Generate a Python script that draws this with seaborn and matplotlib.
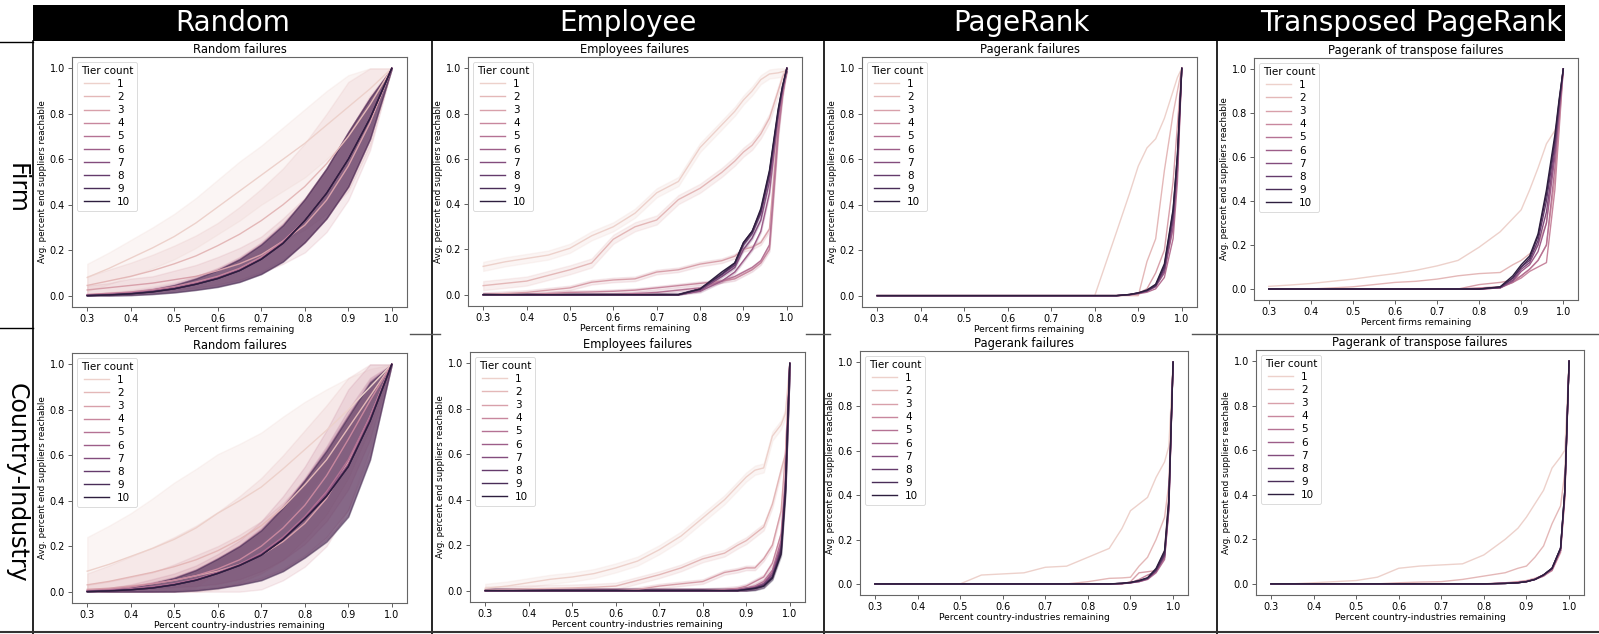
import numpy as np
import pandas as pd
import seaborn as sns
import matplotlib.pyplot as plt
from matplotlib.patches import Rectangle
from matplotlib.lines import Line2D

# x grids (fraction of nodes remaining)
X_SMOOTH = [0.30, 0.35, 0.40, 0.45, 0.50, 0.55, 0.60, 0.65, 0.70, 0.75, 0.80, 0.85, 0.90, 0.95, 1.00]
X_SHARP = [0.30, 0.35, 0.40, 0.45, 0.50, 0.55, 0.60, 0.65, 0.70, 0.75, 0.80, 0.85, 0.88, 0.90,
           0.92, 0.94, 0.96, 0.98, 0.99, 1.00]
TIERS = list(range(1, 11))

COLUMN_TITLES = ["Random", "Employee", "PageRank", "Transposed PageRank"]
ROW_TITLES = ["Firm", "Country-Industry"]
PANEL_TITLES = ["Random failures", "Employees failures", "Pagerank failures", "Pagerank of transpose failures"]
X_LABELS = ["Percent firms remaining", "Percent country-industries remaining"]
Y_LABEL = "Avg. percent end suppliers reachable"

# ---- Random failures, firm level (mean per tier, X_SMOOTH) ----
random_firm = [
    [0.080, 0.120, 0.165, 0.210, 0.260, 0.320, 0.390, 0.460, 0.530, 0.600, 0.670, 0.750, 0.830, 0.910, 1.00],
    [0.045, 0.065, 0.085, 0.110, 0.140, 0.175, 0.220, 0.270, 0.330, 0.400, 0.480, 0.580, 0.700, 0.840, 1.00],
    [0.025, 0.035, 0.045, 0.055, 0.070, 0.085, 0.110, 0.140, 0.180, 0.240, 0.310, 0.420, 0.570, 0.760, 1.00],
    [0.005, 0.010, 0.016, 0.026, 0.040, 0.060, 0.085, 0.120, 0.170, 0.240, 0.330, 0.450, 0.600, 0.780, 1.00],
    [0.003, 0.007, 0.012, 0.021, 0.035, 0.055, 0.080, 0.115, 0.165, 0.235, 0.330, 0.450, 0.600, 0.780, 1.00],
    [0.002, 0.005, 0.010, 0.019, 0.032, 0.052, 0.078, 0.112, 0.162, 0.232, 0.330, 0.450, 0.600, 0.780, 1.00],
    [0.001, 0.004, 0.009, 0.018, 0.031, 0.051, 0.077, 0.111, 0.161, 0.231, 0.330, 0.450, 0.600, 0.780, 1.00],
    [0.000, 0.003, 0.008, 0.017, 0.030, 0.050, 0.076, 0.110, 0.160, 0.230, 0.330, 0.450, 0.600, 0.780, 1.00],
    [0.000, 0.003, 0.008, 0.017, 0.030, 0.050, 0.075, 0.110, 0.160, 0.230, 0.330, 0.450, 0.600, 0.780, 1.00],
    [0.000, 0.003, 0.008, 0.016, 0.030, 0.050, 0.075, 0.110, 0.160, 0.230, 0.330, 0.450, 0.600, 0.780, 1.00],
]
rf_spread_1 = [0.06, 0.07, 0.08, 0.09, 0.10, 0.11, 0.12, 0.13, 0.13, 0.14, 0.15, 0.15, 0.14, 0.10, 0.0]
rf_spread_2 = [0.04, 0.05, 0.06, 0.07, 0.08, 0.09, 0.10, 0.12, 0.14, 0.16, 0.19, 0.22, 0.24, 0.18, 0.0]
rf_spread_3 = [0.02, 0.02, 0.03, 0.03, 0.04, 0.05, 0.06, 0.07, 0.08, 0.10, 0.12, 0.14, 0.15, 0.12, 0.0]
rf_spread_deep = [0.0, 0.003, 0.006, 0.01, 0.016, 0.025, 0.037, 0.05, 0.065, 0.08, 0.095, 0.11, 0.12, 0.09, 0.0]
random_firm_spread = [rf_spread_1, rf_spread_2, rf_spread_3] + [rf_spread_deep] * 7

# ---- Random failures, country-industry level ----
random_ci = [
    [0.090, 0.120, 0.155, 0.190, 0.230, 0.280, 0.345, 0.400, 0.460, 0.540, 0.625, 0.710, 0.800, 0.900, 1.00],
    [0.030, 0.045, 0.065, 0.085, 0.110, 0.140, 0.180, 0.230, 0.290, 0.370, 0.470, 0.580, 0.720, 0.860, 1.00],
    [0.010, 0.015, 0.025, 0.035, 0.050, 0.070, 0.090, 0.120, 0.160, 0.220, 0.300, 0.410, 0.570, 0.770, 1.00],
    [0.005, 0.010, 0.020, 0.035, 0.050, 0.070, 0.100, 0.140, 0.200, 0.280, 0.380, 0.510, 0.670, 0.840, 1.00],
    [0.003, 0.007, 0.013, 0.022, 0.035, 0.055, 0.085, 0.120, 0.170, 0.240, 0.330, 0.440, 0.580, 0.770, 1.00],
    [0.002, 0.005, 0.010, 0.019, 0.032, 0.052, 0.082, 0.117, 0.165, 0.235, 0.325, 0.430, 0.560, 0.760, 1.00],
    [0.001, 0.004, 0.009, 0.017, 0.031, 0.051, 0.081, 0.116, 0.162, 0.232, 0.322, 0.425, 0.555, 0.755, 1.00],
    [0.000, 0.003, 0.008, 0.016, 0.030, 0.050, 0.080, 0.115, 0.160, 0.230, 0.320, 0.420, 0.550, 0.750, 1.00],
    [0.000, 0.003, 0.008, 0.016, 0.030, 0.050, 0.080, 0.115, 0.160, 0.230, 0.320, 0.420, 0.550, 0.750, 1.00],
    [0.000, 0.003, 0.008, 0.016, 0.030, 0.050, 0.080, 0.115, 0.160, 0.230, 0.320, 0.420, 0.550, 0.750, 1.00],
]
rc_spread_1 = [0.15, 0.17, 0.19, 0.22, 0.25, 0.26, 0.26, 0.25, 0.24, 0.23, 0.21, 0.18, 0.14, 0.08, 0.0]
rc_spread_2 = [0.05, 0.07, 0.09, 0.11, 0.13, 0.15, 0.17, 0.19, 0.21, 0.23, 0.24, 0.24, 0.22, 0.14, 0.0]
rc_spread_3 = [0.02, 0.03, 0.04, 0.05, 0.07, 0.09, 0.11, 0.13, 0.15, 0.17, 0.19, 0.21, 0.21, 0.14, 0.0]
rc_spread_deep = [0.0, 0.006, 0.012, 0.02, 0.03, 0.045, 0.065, 0.085, 0.11, 0.14, 0.17, 0.2, 0.22, 0.17, 0.0]
random_ci_spread = [rc_spread_1, rc_spread_2, rc_spread_3] + [rc_spread_deep] * 7

# ---- Employee failures, firm level (X_SHARP) ----
employee_firm = [
    [0.125, 0.145, 0.16, 0.175, 0.205, 0.26, 0.30, 0.36, 0.45, 0.50, 0.65, 0.75, 0.81, 0.86, 0.90, 0.95, 0.975, 0.98, 0.985, 0.99],
    [0.04, 0.05, 0.06, 0.085, 0.11, 0.14, 0.245, 0.30, 0.33, 0.42, 0.47, 0.54, 0.59, 0.63, 0.66, 0.71, 0.78, 0.90, 0.96, 1.00],
    [0.0, 0.005, 0.01, 0.02, 0.03, 0.055, 0.065, 0.07, 0.10, 0.11, 0.135, 0.15, 0.17, 0.20, 0.21, 0.23, 0.29, 0.75, 0.90, 1.00],
    [0.0, 0.0, 0.0, 0.005, 0.01, 0.012, 0.015, 0.02, 0.03, 0.04, 0.05, 0.06, 0.07, 0.09, 0.11, 0.14, 0.20, 0.70, 0.88, 1.00],
    [0.0, 0.0, 0.0, 0.0, 0.0, 0.0, 0.0, 0.005, 0.01, 0.02, 0.03, 0.06, 0.08, 0.10, 0.12, 0.15, 0.22, 0.72, 0.88, 1.00],
    [0.0, 0.0, 0.0, 0.0, 0.0, 0.0, 0.0, 0.0, 0.0, 0.0, 0.015, 0.06, 0.10, 0.15, 0.20, 0.28, 0.45, 0.78, 0.90, 1.00],
    [0.0, 0.0, 0.0, 0.0, 0.0, 0.0, 0.0, 0.0, 0.0, 0.0, 0.02, 0.08, 0.12, 0.20, 0.25, 0.33, 0.50, 0.80, 0.91, 1.00],
    [0.0, 0.0, 0.0, 0.0, 0.0, 0.0, 0.0, 0.0, 0.0, 0.0, 0.025, 0.09, 0.13, 0.22, 0.27, 0.36, 0.53, 0.80, 0.91, 1.00],
    [0.0, 0.0, 0.0, 0.0, 0.0, 0.0, 0.0, 0.0, 0.0, 0.0, 0.025, 0.09, 0.14, 0.23, 0.28, 0.37, 0.54, 0.81, 0.92, 1.00],
    [0.0, 0.0, 0.0, 0.0, 0.0, 0.0, 0.0, 0.0, 0.0, 0.0, 0.025, 0.10, 0.14, 0.23, 0.28, 0.38, 0.55, 0.82, 0.92, 1.00],
]
employee_firm_spread = [0.02, 0.02, 0.01, 0.008, 0.006, 0.005, 0.005, 0.005, 0.005, 0.005]

# ---- Employee failures, country-industry level ----
employee_ci = [
    [0.01, 0.02, 0.035, 0.05, 0.06, 0.075, 0.10, 0.13, 0.18, 0.24, 0.32, 0.40, 0.46, 0.50, 0.53, 0.54, 0.68, 0.73, 0.78, 1.00],
    [0.003, 0.005, 0.008, 0.01, 0.012, 0.015, 0.02, 0.045, 0.07, 0.10, 0.14, 0.165, 0.20, 0.22, 0.25, 0.28, 0.38, 0.53, 0.60, 1.00],
    [0.0, 0.0, 0.0, 0.0, 0.0, 0.0, 0.0, 0.005, 0.02, 0.03, 0.04, 0.08, 0.09, 0.10, 0.10, 0.14, 0.20, 0.35, 0.60, 1.00],
    [0.0, 0.0, 0.0, 0.0, 0.0, 0.0, 0.0, 0.0, 0.0, 0.0, 0.0, 0.005, 0.01, 0.02, 0.04, 0.06, 0.12, 0.25, 0.50, 1.00],
    [0.0, 0.0, 0.0, 0.0, 0.0, 0.0, 0.0, 0.0, 0.0, 0.0, 0.0, 0.0, 0.005, 0.01, 0.02, 0.04, 0.09, 0.22, 0.48, 1.00],
    [0.0, 0.0, 0.0, 0.0, 0.0, 0.0, 0.0, 0.0, 0.0, 0.0, 0.0, 0.0, 0.003, 0.008, 0.015, 0.03, 0.08, 0.20, 0.47, 1.00],
    [0.0, 0.0, 0.0, 0.0, 0.0, 0.0, 0.0, 0.0, 0.0, 0.0, 0.0, 0.0, 0.003, 0.007, 0.013, 0.03, 0.07, 0.19, 0.46, 1.00],
    [0.0, 0.0, 0.0, 0.0, 0.0, 0.0, 0.0, 0.0, 0.0, 0.0, 0.0, 0.0, 0.0, 0.006, 0.012, 0.025, 0.06, 0.18, 0.45, 1.00],
    [0.0, 0.0, 0.0, 0.0, 0.0, 0.0, 0.0, 0.0, 0.0, 0.0, 0.0, 0.0, 0.0, 0.005, 0.01, 0.02, 0.06, 0.17, 0.44, 1.00],
    [0.0, 0.0, 0.0, 0.0, 0.0, 0.0, 0.0, 0.0, 0.0, 0.0, 0.0, 0.0, 0.0, 0.005, 0.01, 0.02, 0.055, 0.16, 0.43, 1.00],
]
employee_ci_spread = [0.02, 0.015, 0.01, 0.01, 0.008, 0.008, 0.008, 0.008, 0.008, 0.008]

# ---- PageRank failures, firm level ----
pagerank_firm = [
    [0.0, 0.0, 0.0, 0.0, 0.0, 0.0, 0.0, 0.0, 0.0, 0.0, 0.0, 0.28, 0.45, 0.57, 0.65, 0.69, 0.78, 0.90, 0.96, 1.00],
    [0.0, 0.0, 0.0, 0.0, 0.0, 0.0, 0.0, 0.0, 0.0, 0.0, 0.0, 0.0, 0.0, 0.0, 0.15, 0.25, 0.55, 0.80, 0.90, 1.00],
    [0.0, 0.0, 0.0, 0.0, 0.0, 0.0, 0.0, 0.0, 0.0, 0.0, 0.0, 0.0, 0.005, 0.01, 0.03, 0.10, 0.20, 0.50, 0.75, 1.00],
    [0.0, 0.0, 0.0, 0.0, 0.0, 0.0, 0.0, 0.0, 0.0, 0.0, 0.0, 0.0, 0.003, 0.01, 0.02, 0.05, 0.12, 0.30, 0.55, 1.00],
    [0.0, 0.0, 0.0, 0.0, 0.0, 0.0, 0.0, 0.0, 0.0, 0.0, 0.0, 0.0, 0.003, 0.008, 0.015, 0.03, 0.08, 0.25, 0.50, 1.00],
    [0.0, 0.0, 0.0, 0.0, 0.0, 0.0, 0.0, 0.0, 0.0, 0.0, 0.0, 0.0, 0.004, 0.01, 0.02, 0.04, 0.10, 0.30, 0.55, 1.00],
    [0.0, 0.0, 0.0, 0.0, 0.0, 0.0, 0.0, 0.0, 0.0, 0.0, 0.0, 0.0, 0.004, 0.01, 0.02, 0.04, 0.11, 0.33, 0.58, 1.00],
    [0.0, 0.0, 0.0, 0.0, 0.0, 0.0, 0.0, 0.0, 0.0, 0.0, 0.0, 0.0, 0.005, 0.012, 0.022, 0.045, 0.12, 0.35, 0.60, 1.00],
    [0.0, 0.0, 0.0, 0.0, 0.0, 0.0, 0.0, 0.0, 0.0, 0.0, 0.0, 0.0, 0.005, 0.012, 0.022, 0.045, 0.13, 0.37, 0.62, 1.00],
    [0.0, 0.0, 0.0, 0.0, 0.0, 0.0, 0.0, 0.0, 0.0, 0.0, 0.0, 0.0, 0.005, 0.012, 0.025, 0.05, 0.14, 0.38, 0.62, 1.00],
]

# ---- PageRank failures, country-industry level ----
pagerank_ci = [
    [0.0, 0.0, 0.0, 0.0, 0.0, 0.04, 0.045, 0.05, 0.075, 0.08, 0.12, 0.16, 0.25, 0.33, 0.36, 0.39, 0.48, 0.55, 0.62, 1.00],
    [0.0, 0.0, 0.0, 0.0, 0.0, 0.0, 0.0, 0.0, 0.0, 0.0, 0.01, 0.025, 0.027, 0.03, 0.08, 0.12, 0.20, 0.30, 0.45, 1.00],
    [0.0, 0.0, 0.0, 0.0, 0.0, 0.0, 0.0, 0.0, 0.0, 0.0, 0.0, 0.0, 0.0, 0.01, 0.05, 0.055, 0.06, 0.15, 0.40, 1.00],
    [0.0, 0.0, 0.0, 0.0, 0.0, 0.0, 0.0, 0.0, 0.0, 0.0, 0.0, 0.0, 0.0, 0.005, 0.02, 0.04, 0.055, 0.12, 0.35, 1.00],
    [0.0, 0.0, 0.0, 0.0, 0.0, 0.0, 0.0, 0.0, 0.0, 0.0, 0.0, 0.0, 0.002, 0.005, 0.01, 0.02, 0.05, 0.11, 0.33, 1.00],
    [0.0, 0.0, 0.0, 0.0, 0.0, 0.0, 0.0, 0.0, 0.0, 0.0, 0.0, 0.0, 0.002, 0.005, 0.01, 0.022, 0.055, 0.12, 0.34, 1.00],
    [0.0, 0.0, 0.0, 0.0, 0.0, 0.0, 0.0, 0.0, 0.0, 0.0, 0.0, 0.0, 0.002, 0.005, 0.012, 0.024, 0.06, 0.13, 0.35, 1.00],
    [0.0, 0.0, 0.0, 0.0, 0.0, 0.0, 0.0, 0.0, 0.0, 0.0, 0.0, 0.0, 0.002, 0.006, 0.013, 0.025, 0.06, 0.13, 0.36, 1.00],
    [0.0, 0.0, 0.0, 0.0, 0.0, 0.0, 0.0, 0.0, 0.0, 0.0, 0.0, 0.0, 0.002, 0.006, 0.014, 0.026, 0.065, 0.14, 0.37, 1.00],
    [0.0, 0.0, 0.0, 0.0, 0.0, 0.0, 0.0, 0.0, 0.0, 0.0, 0.0, 0.0, 0.003, 0.007, 0.015, 0.028, 0.07, 0.15, 0.38, 1.00],
]

# ---- Transposed PageRank failures, firm level ----
transposed_firm = [
    [0.012, 0.018, 0.025, 0.035, 0.045, 0.058, 0.07, 0.085, 0.105, 0.13, 0.19, 0.26, 0.32, 0.36, 0.45, 0.55, 0.66, 0.72, 0.78, 1.00],
    [0.0, 0.0, 0.0, 0.005, 0.01, 0.02, 0.03, 0.035, 0.045, 0.06, 0.07, 0.075, 0.11, 0.13, 0.16, 0.20, 0.30, 0.65, 0.80, 1.00],
    [0.0, 0.0, 0.0, 0.0, 0.0, 0.0, 0.0, 0.0, 0.0, 0.0, 0.02, 0.03, 0.04, 0.06, 0.09, 0.13, 0.20, 0.50, 0.75, 1.00],
    [0.0, 0.0, 0.0, 0.0, 0.0, 0.0, 0.0, 0.0, 0.0, 0.0, 0.005, 0.01, 0.03, 0.05, 0.08, 0.10, 0.12, 0.45, 0.72, 1.00],
    [0.0, 0.0, 0.0, 0.0, 0.0, 0.0, 0.0, 0.0, 0.0, 0.0, 0.0, 0.005, 0.03, 0.06, 0.09, 0.13, 0.20, 0.55, 0.78, 1.00],
    [0.0, 0.0, 0.0, 0.0, 0.0, 0.0, 0.0, 0.0, 0.0, 0.0, 0.0, 0.005, 0.035, 0.08, 0.11, 0.17, 0.30, 0.60, 0.80, 1.00],
    [0.0, 0.0, 0.0, 0.0, 0.0, 0.0, 0.0, 0.0, 0.0, 0.0, 0.0, 0.005, 0.04, 0.09, 0.12, 0.20, 0.35, 0.63, 0.82, 1.00],
    [0.0, 0.0, 0.0, 0.0, 0.0, 0.0, 0.0, 0.0, 0.0, 0.0, 0.0, 0.008, 0.05, 0.10, 0.13, 0.22, 0.40, 0.66, 0.84, 1.00],
    [0.0, 0.0, 0.0, 0.0, 0.0, 0.0, 0.0, 0.0, 0.0, 0.0, 0.0, 0.008, 0.05, 0.10, 0.14, 0.24, 0.43, 0.68, 0.85, 1.00],
    [0.0, 0.0, 0.0, 0.0, 0.0, 0.0, 0.0, 0.0, 0.0, 0.0, 0.0, 0.01, 0.06, 0.11, 0.15, 0.25, 0.45, 0.70, 0.86, 1.00],
]

# ---- Transposed PageRank failures, country-industry level ----
transposed_ci = [
    [0.0, 0.0, 0.005, 0.01, 0.015, 0.03, 0.07, 0.08, 0.085, 0.09, 0.13, 0.20, 0.25, 0.30, 0.36, 0.42, 0.52, 0.57, 0.60, 1.00],
    [0.0, 0.0, 0.0, 0.0, 0.0, 0.0, 0.005, 0.008, 0.01, 0.02, 0.035, 0.05, 0.07, 0.08, 0.12, 0.17, 0.27, 0.35, 0.50, 1.00],
    [0.0, 0.0, 0.0, 0.0, 0.0, 0.0, 0.0, 0.0, 0.0, 0.0, 0.0, 0.005, 0.01, 0.015, 0.025, 0.04, 0.06, 0.14, 0.38, 1.00],
    [0.0, 0.0, 0.0, 0.0, 0.0, 0.0, 0.0, 0.0, 0.0, 0.0, 0.0, 0.003, 0.008, 0.012, 0.02, 0.035, 0.06, 0.15, 0.40, 1.00],
    [0.0, 0.0, 0.0, 0.0, 0.0, 0.0, 0.0, 0.0, 0.0, 0.0, 0.0, 0.002, 0.006, 0.01, 0.02, 0.035, 0.065, 0.15, 0.40, 1.00],
    [0.0, 0.0, 0.0, 0.0, 0.0, 0.0, 0.0, 0.0, 0.0, 0.0, 0.0, 0.002, 0.005, 0.01, 0.02, 0.04, 0.065, 0.15, 0.41, 1.00],
    [0.0, 0.0, 0.0, 0.0, 0.0, 0.0, 0.0, 0.0, 0.0, 0.0, 0.0, 0.002, 0.005, 0.01, 0.02, 0.04, 0.07, 0.16, 0.41, 1.00],
    [0.0, 0.0, 0.0, 0.0, 0.0, 0.0, 0.0, 0.0, 0.0, 0.0, 0.0, 0.002, 0.005, 0.01, 0.02, 0.04, 0.07, 0.16, 0.42, 1.00],
    [0.0, 0.0, 0.0, 0.0, 0.0, 0.0, 0.0, 0.0, 0.0, 0.0, 0.0, 0.002, 0.005, 0.01, 0.02, 0.04, 0.07, 0.16, 0.42, 1.00],
    [0.0, 0.0, 0.0, 0.0, 0.0, 0.0, 0.0, 0.0, 0.0, 0.0, 0.0, 0.002, 0.005, 0.01, 0.02, 0.04, 0.07, 0.16, 0.42, 1.00],
]

W, H = 1599, 634


def long_frame(x, curves, spreads=None):
    """Turn per-tier curves into long form; each point gets low/mid/high rows so the band is the spread."""
    rows = []
    for i, ys in enumerate(curves):
        sp = spreads[i] if spreads is not None else 0.0
        if np.isscalar(sp):
            sp = [sp] * len(x)
        for xi, yi, si in zip(x, ys, sp):
            for yv in (max(yi - si, 0.0), yi, min(yi + si, 1.0)):
                rows.append({"remaining": xi, "reach": yv, "Tier count": TIERS[i]})
    return pd.DataFrame(rows)


def px_rect(left, top, right, bottom):
    return [left / W, 1 - bottom / H, (right - left) / W, (bottom - top) / H]


fig = plt.figure(figsize=(W / 100, H / 100), dpi=100)

panels = [
    (0, 0, X_SMOOTH, random_firm, random_firm_spread, (72, 57, 407, 307)),
    (0, 1, X_SHARP, employee_firm, employee_firm_spread, (468, 57, 802, 306)),
    (0, 2, X_SHARP, pagerank_firm, None, (862, 57, 1197, 307)),
    (0, 3, X_SHARP, transposed_firm, None, (1254, 58, 1578, 300)),
    (1, 0, X_SMOOTH, random_ci, random_ci_spread, (72, 353, 407, 603)),
    (1, 1, X_SHARP, employee_ci, employee_ci_spread, (470, 352, 805, 602)),
    (1, 2, X_SHARP, pagerank_ci, None, (860, 351, 1188, 595)),
    (1, 3, X_SHARP, transposed_ci, None, (1256, 350, 1584, 595)),
]

for row, col, x, curves, spreads, box in panels:
    ax = fig.add_axes(px_rect(*box))
    df = long_frame(x, curves, spreads)
    sns.lineplot(data=df, x="remaining", y="reach", hue="Tier count",
                 estimator="median",
                 errorbar=("pi", 100) if spreads is not None else None,
                 legend="full", linewidth=1.0, ax=ax)
    ax.set_title(PANEL_TITLES[col], fontsize=8.3, pad=3)
    ax.set_xlabel(X_LABELS[row], fontsize=6.6, labelpad=1)
    ax.set_ylabel(Y_LABEL, fontsize=6.3, labelpad=2)
    ax.set_xticks([0.3, 0.4, 0.5, 0.6, 0.7, 0.8, 0.9, 1.0])
    ax.set_yticks([0.0, 0.2, 0.4, 0.6, 0.8, 1.0])
    ax.tick_params(labelsize=7, length=3, width=0.6, color="#444444", pad=2)
    for s in ax.spines.values():
        s.set_color("#666666")
        s.set_linewidth(0.8)
    leg = ax.legend(title="Tier count", loc="upper left", fontsize=7.5, title_fontsize=7.5,
                    labelspacing=0.3, handlelength=2.4, borderpad=0.35)
    leg.get_frame().set_linewidth(0.6)

# black header bar with column titles
fig.add_artist(Rectangle((33 / W, 1 - 41 / H), (1565 - 33) / W, 36 / H,
                         transform=fig.transFigure, facecolor="black", edgecolor="none"))
for cx, name in zip([233, 628, 1021, 1411], COLUMN_TITLES):
    fig.text(cx / W, 1 - 23 / H, name, color="white", fontsize=20, ha="center", va="center")

# row titles
for cy, name in zip([188, 483], ROW_TITLES):
    fig.text(17 / W, 1 - cy / H, name, fontsize=17, rotation=-90, ha="center", va="center")

# separator lines
for vx in [33, 432, 824, 1217]:
    fig.add_artist(Line2D([vx / W, vx / W], [1 - 41 / H, 0], transform=fig.transFigure,
                          color="black", linewidth=1.2))
fig.add_artist(Line2D([0, 33 / W], [1 - 42 / H, 1 - 42 / H], transform=fig.transFigure,
                      color="black", linewidth=1.0))
fig.add_artist(Line2D([0, 33 / W], [1 - 328 / H, 1 - 328 / H], transform=fig.transFigure,
                      color="black", linewidth=1.0))
for x0, x1 in [(410, 440), (806, 830), (1192, 1599)]:
    fig.add_artist(Line2D([x0 / W, x1 / W], [1 - 334 / H, 1 - 334 / H], transform=fig.transFigure,
                          color="#555555", linewidth=1.0))
fig.add_artist(Line2D([0, 1], [1 - 632 / H, 1 - 632 / H], transform=fig.transFigure,
                      color="#333333", linewidth=1.5))

fig.savefig("out.png", dpi=100)
